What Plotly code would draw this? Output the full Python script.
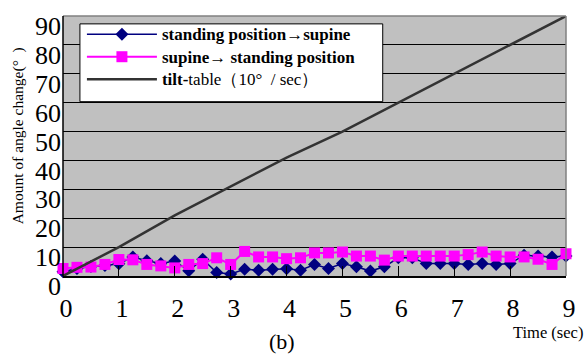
import plotly.graph_objects as go

# ---- data ----
time_s = [0, 0.25, 0.5, 0.75, 1, 1.25, 1.5, 1.75, 2, 2.25, 2.5, 2.75, 3, 3.25, 3.5, 3.75,
          4, 4.25, 4.5, 4.75, 5, 5.25, 5.5, 5.75, 6, 6.25, 6.5, 6.75, 7, 7.25, 7.5, 7.75,
          8, 8.25, 8.5, 8.75, 9]
standing_to_supine = [1.5, 2.6, 3.3, 3.6, 4.2, 6.6, 5.3, 4.3, 5.2, 1.8, 5.8, 1.2, 0.7, 2.3,
                      2.0, 2.3, 2.5, 2.0, 4.0, 2.6, 4.3, 3.2, 1.7, 3.2, 6.3, 6.3, 4.3, 4.3,
                      4.3, 4.0, 4.3, 4.0, 4.3, 7.2, 6.9, 6.6, 6.9]
supine_to_standing = [2.6, 3.0, 3.1, 4.0, 5.7, 5.6, 4.0, 3.5, 2.8, 4.0, 4.3, 6.3, 4.0, 8.5,
                      6.6, 6.6, 6.0, 6.3, 8.0, 8.0, 8.3, 6.9, 6.9, 5.5, 6.9, 6.9, 6.9, 6.9,
                      6.9, 7.4, 8.3, 6.9, 6.6, 6.6, 5.8, 4.0, 7.7]
tilt_time = [0, 1, 2, 3, 4, 5, 6, 7, 8, 9]
tilt_angle = [0, 10, 21, 31, 41, 50, 60, 70, 80, 90]

x_ticks = [0, 1, 2, 3, 4, 5, 6, 7, 8, 9]
y_ticks = [0, 10, 20, 30, 40, 50, 60, 70, 80, 90]

names = ["standing position→supine",
         "supine→ standing position",
         "tilt-table（10°  / sec）"]

W, H = 588, 356
L, R, T, B = 63, 20, 12, 80
PW, PH = W - L - R, H - T - B

def px(xp):
    return (xp - L) / PW

def py(yp):
    return (H - B - yp) / PH

serif = "Times New Roman, Liberation Serif, serif"

def big(s):
    return '<span style="font-size:17px">' + s + '</span>'

legend_labels = [big("<b>" + names[0] + "</b>"),
                 big("<b>" + names[1] + "</b>"),
                 big("<b>tilt-</b>" + names[2][5:])]

fig = go.Figure()
fig.add_trace(go.Scatter(
    x=time_s, y=standing_to_supine, mode="lines+markers", name=legend_labels[0],
    line=dict(color="#000080", width=1.5),
    marker=dict(symbol="diamond", size=10, color="#000080"),
    cliponaxis=False, legendgroup="a"))
fig.add_trace(go.Scatter(
    x=time_s, y=supine_to_standing, mode="lines+markers", name=legend_labels[1],
    line=dict(color="#ff00ff", width=2),
    marker=dict(symbol="square", size=11, color="#ff00ff"),
    cliponaxis=False, legendgroup="b"))
fig.add_trace(go.Scatter(
    x=tilt_time, y=tilt_angle, mode="lines", name=legend_labels[2],
    line=dict(color="#333333", width=2.5), legendgroup="c"))

shapes = [
    # legend box
    dict(type="rect", xref="paper", yref="paper", x0=px(80), x1=px(384), y0=py(99), y1=py(20),
         fillcolor="white", line=dict(color="black", width=1), layer="above"),
    # borders
    dict(type="line", xref="paper", yref="paper", x0=0, x1=1, y0=1, y1=1,
         line=dict(color="#808080", width=1.5), layer="above"),
    dict(type="line", xref="paper", yref="paper", x0=1, x1=1, y0=0, y1=1,
         line=dict(color="#808080", width=1.5), layer="above"),
    dict(type="line", xref="paper", yref="paper", x0=0, x1=0, y0=0, y1=1,
         line=dict(color="black", width=1.5), layer="above"),
]

fig.update_layout(
    width=W, height=H,
    margin=dict(l=L, r=R, t=T, b=B),
    paper_bgcolor="white",
    plot_bgcolor="#c0c0c0",
    font=dict(family=serif, color="black"),
    showlegend=True,
    legend=dict(x=px(82), y=py(14), xanchor="left", yanchor="top",
                bgcolor="rgba(0,0,0,0)", borderwidth=0,
                font=dict(family=serif, size=15, color="black"),
                itemwidth=70, tracegroupgap=0, itemclick=False),
    shapes=shapes,
    xaxis=dict(range=[0, 9], tickvals=x_ticks, ticktext=[str(v) for v in x_ticks],
               showgrid=False, zeroline=False, showline=True, linecolor="black", linewidth=1.5,
               ticks="inside", ticklen=10, tickcolor="black", tickwidth=1,
               tickfont=dict(family=serif, size=26, color="black"),
               ticklabelstandoff=8, ticklabelshift=3),
    yaxis=dict(range=[0, 90], tickvals=y_ticks, ticktext=[str(v) for v in y_ticks],
               showgrid=True, gridcolor="black", gridwidth=1, zeroline=False,
               showline=False, ticks="",
               tickfont=dict(family=serif, size=26, color="black"),
               ticklabelstandoff=1, ticklabelshift=10),
    annotations=[
        dict(text="Amount of angle change(°  )", xref="paper", yref="paper",
             x=px(18), y=py(134), xanchor="center", yanchor="middle",
             textangle=-90, showarrow=False,
             font=dict(family=serif, size=15.5, color="black")),
        dict(text="Time (sec)", xref="paper", yref="paper", x=px(550), y=py(333),
             xanchor="center", yanchor="middle",
             showarrow=False, font=dict(family=serif, size=16.5, color="black")),
        dict(text="(b)", xref="paper", yref="paper", x=px(283), y=py(342),
             xanchor="center", yanchor="middle",
             showarrow=False, font=dict(family=serif, size=22, color="black")),
    ],
)

fig.write_html("out.html")
